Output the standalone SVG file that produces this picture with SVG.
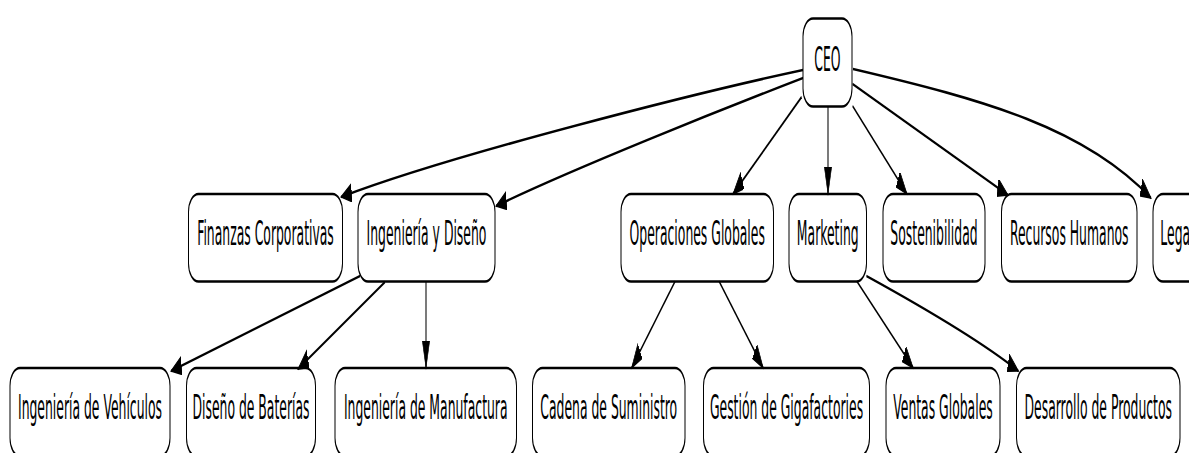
<svg xmlns="http://www.w3.org/2000/svg" width="1189" height="453" viewBox="0 0 1189 453">
<defs>
<marker id="arr" markerUnits="userSpaceOnUse" markerWidth="32" markerHeight="22" refX="27" refY="9" orient="auto">
<path d="M0,0 L27,9 L0,18 z" fill="#000" stroke="#000" stroke-width="1.5"/>
</marker>
<style>
.n rect{fill:#fff;stroke:#000;stroke-width:2.5}
.n text{font-family:"DejaVu Sans",sans-serif;font-size:33px;fill:#000;text-anchor:middle}
#connectors path{fill:none;stroke:#000;stroke-width:2.6;marker-end:url(#arr)}
</style>
</defs>
<rect width="1189" height="453" fill="#fff"/>
<g transform="scale(0.4,1)">
<g id="n-ceo" class="n"><rect x="2007.5" y="18.5" width="122.5" height="88" rx="25" ry="18"/><text transform="scale(0.94,1)" x="2200.8" y="71.5">CEO</text></g>
<g id="n-finanzas" class="n"><rect x="471.25" y="194" width="385" height="87.5" rx="25" ry="18"/><text transform="scale(0.94,1)" x="706.1" y="245.5">Finanzas Corporativas</text></g>
<g id="n-ingdis" class="n"><rect x="895" y="194" width="342.5" height="87.5" rx="25" ry="18"/><text transform="scale(0.94,1)" x="1134.3" y="245.5">Ingeniería y Diseño</text></g>
<g id="n-operaciones" class="n"><rect x="1552.5" y="194" width="381.25" height="87.5" rx="25" ry="18"/><text transform="scale(0.94,1)" x="1854.4" y="245.5">Operaciones Globales</text></g>
<g id="n-marketing" class="n"><rect x="1972.5" y="194" width="193.75" height="87.5" rx="25" ry="18"/><text transform="scale(0.94,1)" x="2201.5" y="245.5">Marketing</text></g>
<g id="n-sostenibilidad" class="n"><rect x="2207.5" y="194" width="255" height="87.5" rx="25" ry="18"/><text transform="scale(0.94,1)" x="2484" y="245.5">Sostenibilidad</text></g>
<g id="n-rrhh" class="n"><rect x="2503.75" y="194" width="338.75" height="87.5" rx="25" ry="18"/><text transform="scale(0.94,1)" x="2843.7" y="245.5">Recursos Humanos</text></g>
<g id="n-legal" class="n"><rect x="2882.5" y="194" width="120" height="87.5" rx="25" ry="18"/><text transform="scale(0.94,1)" x="3130.3" y="245.5">Legal</text></g>
<g id="n-vehiculos" class="n"><rect x="25" y="368" width="400" height="88" rx="25" ry="18"/><text transform="scale(0.94,1)" x="239.4" y="419.5">Ingeniería de Vehículos</text></g>
<g id="n-baterias" class="n"><rect x="466.25" y="368" width="322.5" height="88" rx="25" ry="18"/><text transform="scale(0.94,1)" x="667.6" y="419.5">Diseño de Baterías</text></g>
<g id="n-manufactura" class="n"><rect x="837.5" y="368" width="453.75" height="88" rx="25" ry="18"/><text transform="scale(0.94,1)" x="1132.3" y="419.5">Ingeniería de Manufactura</text></g>
<g id="n-cadena" class="n"><rect x="1331.25" y="368" width="381.25" height="88" rx="25" ry="18"/><text transform="scale(0.94,1)" x="1619" y="419.5">Cadena de Suministro</text></g>
<g id="n-gigafactories" class="n"><rect x="1758.75" y="368" width="415" height="88" rx="25" ry="18"/><text transform="scale(0.94,1)" x="2091.8" y="419.5">Gestión de Gigafactories</text></g>
<g id="n-ventas" class="n"><rect x="2215" y="368" width="285" height="88" rx="25" ry="18"/><text transform="scale(0.94,1)" x="2508" y="419.5">Ventas Globales</text></g>
<g id="n-desarrollo" class="n"><rect x="2541.25" y="368" width="408.75" height="88" rx="25" ry="18"/><text transform="scale(0.94,1)" x="2920.9" y="419.5">Desarrollo de Productos</text></g>
<g id="connectors">
<path d="M2007.5,70 C1750,92 1125,155 852.5,197"/>
<path d="M2007.5,78 C1800,110 1425,170 1240,206"/>
<path d="M2004,97 L1832.5,194"/>
<path d="M2070,106.5 L2070,194"/>
<path d="M2131.5,106 L2267.5,194"/>
<path d="M2131.5,84 L2520,195"/>
<path d="M2132.5,69 C2462.5,100 2712.5,128 2877.5,198"/>
<path d="M900,276 L427.5,371"/>
<path d="M962.5,282 L745,369"/>
<path d="M1065,281.5 L1065,368"/>
<path d="M1687.5,281.5 L1579,368"/>
<path d="M1798,281.5 L1908,368"/>
<path d="M2142.5,281.5 L2283,368"/>
<path d="M2166,276 C2275,300 2450,340 2546,371"/>
</g>
</g>
</svg>
